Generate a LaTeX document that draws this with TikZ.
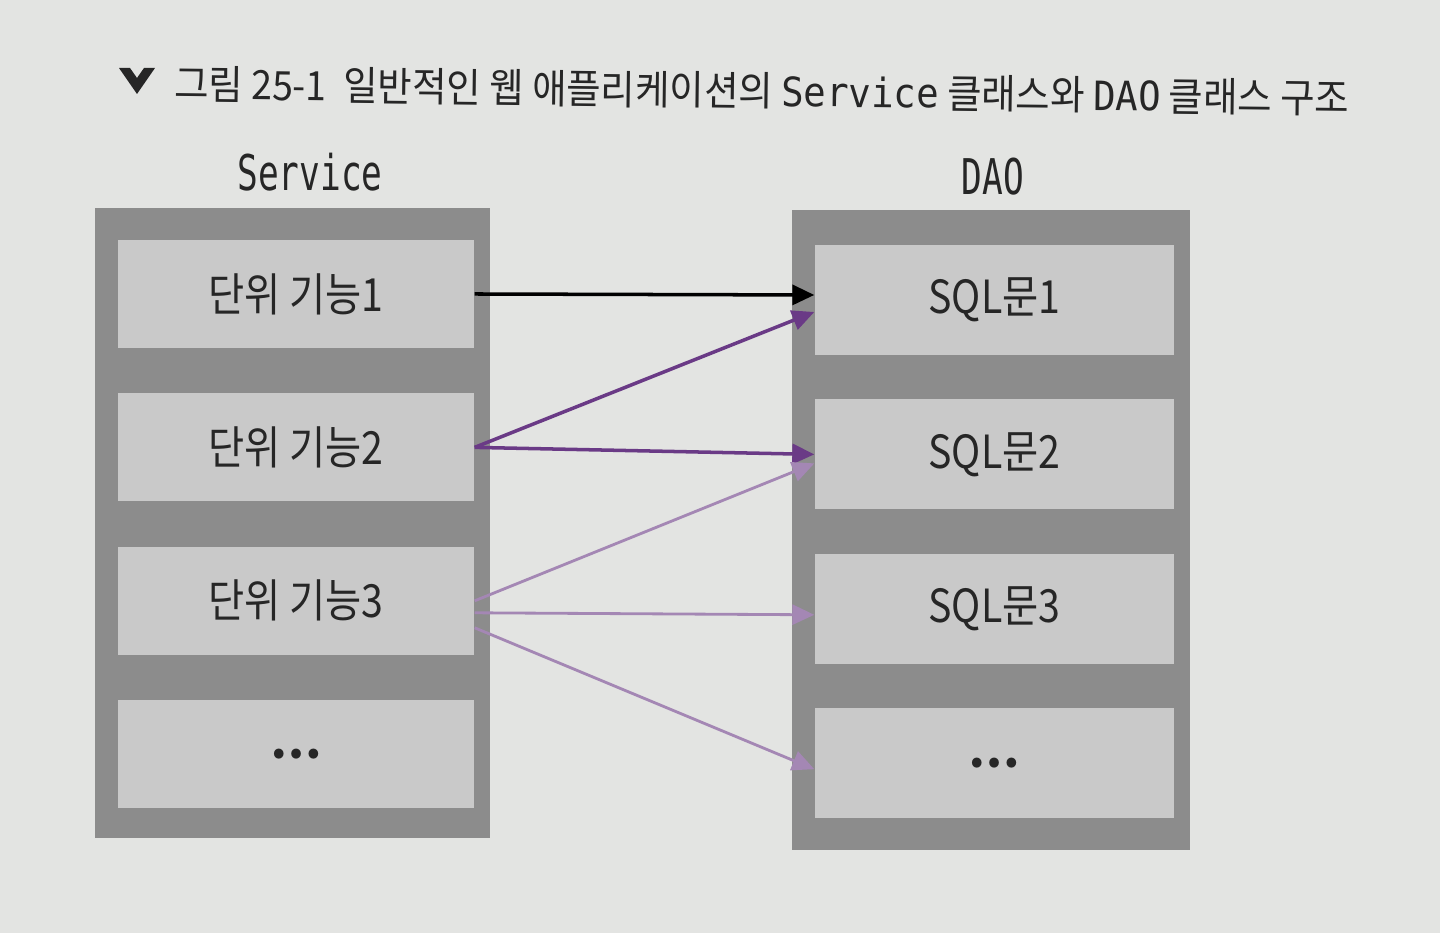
\documentclass[tikz,border=0pt]{standalone}
\usepackage{fontspec}
\usepackage{graphicx}
\usetikzlibrary{positioning,arrows.meta}
\newfontfamily\krfont{Noto Sans CJK KR}
\newfontfamily\codefont{DejaVu Sans Mono}
\newcommand{\narrow}[2][0.86]{\scalebox{#1}[1]{#2}}
\definecolor{paper}{HTML}{E3E4E2}
\definecolor{layer}{HTML}{8C8C8C}
\definecolor{unit}{HTML}{C9C9C9}
\definecolor{ink}{HTML}{262626}
\definecolor{callpurple}{HTML}{6A3A86}
\definecolor{weakpurple}{HTML}{A487B4}
\tikzset{
  layerbox/.style = {shape=rectangle, fill=layer, inner sep=0pt},
  unitbox/.style  = {shape=rectangle, fill=unit, inner sep=0pt,
                     minimum width=3.56cm, minimum height=1.08cm,
                     text=ink, font=\krfont\fontsize{13}{15}\selectfont},
  sqlbox/.style   = {unitbox, minimum width=3.59cm, minimum height=1.1cm},
  layername/.style= {text=ink, font=\codefont\fontsize{14}{16}\selectfont},
  call/.style     = {-{Triangle[length=0.22cm,width=0.2cm]}, line width=1pt},
  weakcall/.style = {call, weakpurple, line width=0.8pt}
}

\begin{document}
\begin{tikzpicture}
  \useasboundingbox[fill=paper] (0,0) rectangle (14.4,9.33);
  % caption
  \fill[ink] (1.19,8.65) -- (1.30,8.65) -- (1.37,8.55) -- (1.44,8.65)
    -- (1.55,8.65) -- (1.37,8.39) -- cycle;
  \node [text=ink, rotate=-0.7, font=\krfont\fontsize{11.5}{14}\selectfont] (title) at (7.62,8.42)
    {\narrow[0.925]{그림 25-1\ \ 일반적인 웹 애플리케이션의 {\codefont Service} 클래스와 {\codefont DAO} 클래스 구조}};

  % service side
  \node [layerbox, minimum width=3.95cm, minimum height=6.3cm] (svc) at (2.925,4.10) {};
  \node [layername] (svcname) at (3.10,7.61) {\narrow[0.7]{Service}};
  \node [unitbox] (svc1) at (2.96,6.39) {\narrow{단위 기능1}};
  \node [unitbox] (svc2) [below=0.44cm of svc1] {\narrow{단위 기능2}};
  \node [unitbox] (svc3) [below=0.44cm of svc2] {\narrow{단위 기능3}};
  \node [unitbox] (svc4) [below=0.44cm of svc3] {\textbf{…}};

  % dao side
  \node [layerbox, minimum width=3.98cm, minimum height=6.4cm] (dao) at (9.91,4.03) {};
  \node [layername] (daoname) at (9.93,7.56) {\narrow[0.7]{DAO}};
  \node [sqlbox] (sql1) at (9.945,6.33) {\narrow{SQL문1}};
  \node [sqlbox] (sql2) [below=0.43cm of sql1] {\narrow{SQL문2}};
  \node [sqlbox] (sql3) [below=0.43cm of sql2] {\narrow{SQL문3}};
  \node [sqlbox] (sql4) [below=0.43cm of sql3] {\textbf{…}};

  \draw [call, black] (svc1.east) -- ([yshift=0.05cm]sql1.west);
  \draw [call, callpurple] (svc2.east) -- ([yshift=-0.12cm]sql1.west);
  \draw [call, callpurple] (svc2.east) -- (sql2.west);
  \draw [weakcall] (svc3.east) -- ([yshift=-0.09cm]sql2.west);
  \draw [weakcall] ([yshift=-0.12cm]svc3.east) -- ([yshift=-0.06cm]sql3.west);
  \draw [weakcall] ([yshift=-0.27cm]svc3.east) -- ([yshift=-0.06cm]sql4.west);
\end{tikzpicture}
\end{document}
